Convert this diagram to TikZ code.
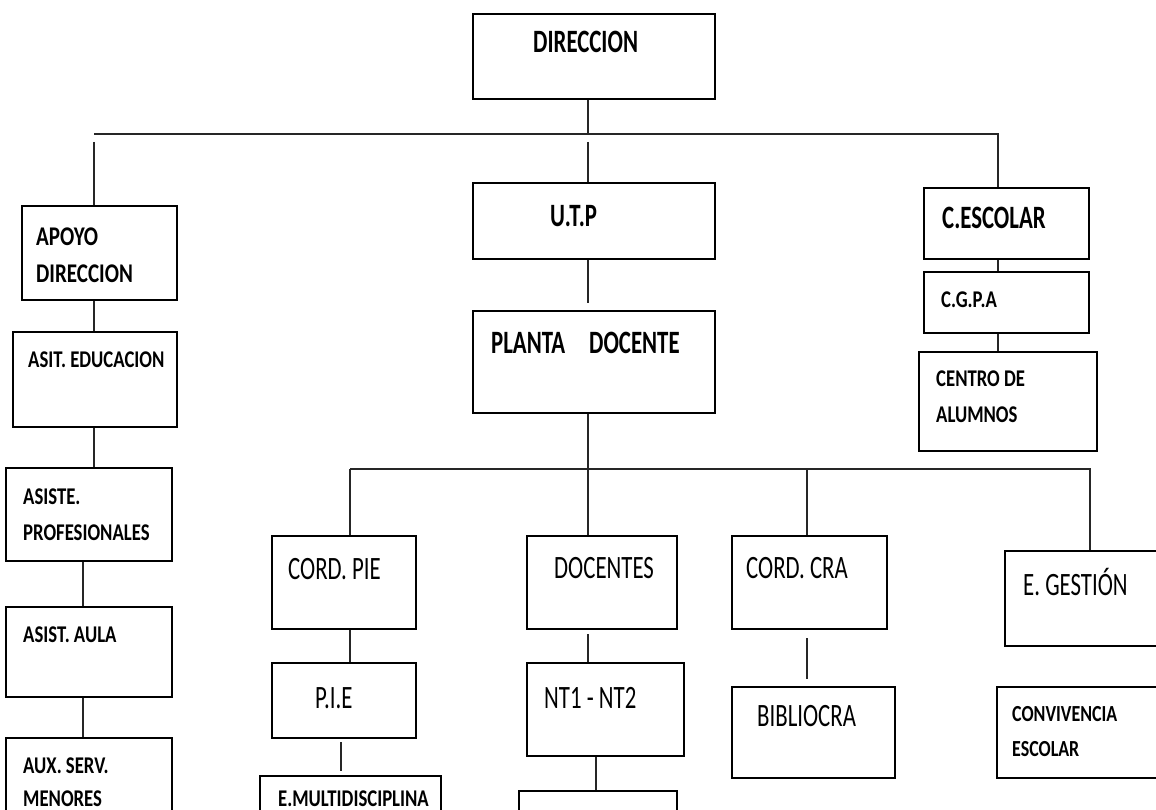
\documentclass[tikz,border=0pt]{standalone}
\usepackage{fontspec}
\setmainfont{Carlito}
\newfontfamily\bigfont[FakeStretch=0.7]{Carlito}
\newfontfamily\midfont[FakeStretch=0.78]{Carlito}
\usepackage{tikz}
\usetikzlibrary{positioning,calc}
\tikzset{
  unit/.style={draw, line width=2pt, inner sep=0pt, fill=white},
  link/.style={line width=1.3pt, black!85},
  bar/.style={line width=2.2pt, black!85},
  bigtxt/.style={font=\bigfont\fontsize{32.6}{36}\selectfont, inner sep=0pt, anchor=base west},
  midtxt/.style={font=\midfont\bfseries\fontsize{24}{36}\selectfont, inner sep=0pt, anchor=base west, align=left}
}
\begin{document}
\begin{tikzpicture}[x=1pt, y=-1pt]
  \clip (0,0) rectangle (1156,810);
  \fill[white] (0,0) rectangle (1156,810);

  % boxes
  \node[unit, minimum width=242pt, minimum height=85pt] (dir) at (594,56.5) {};
  \node[unit, minimum width=242pt, minimum height=76pt] (utp) at (594,221) {};
  \node[unit, minimum width=242pt, minimum height=102pt] (planta) at (594,362) {};
  \node[unit, minimum width=155pt, minimum height=94pt] (apoyo) at (99.5,253) {};
  \node[unit, minimum width=164pt, minimum height=95pt] (asited) at (95,379.5) {};
  \node[unit, minimum width=166pt, minimum height=93pt] (asiste) at (89,514.5) {};
  \node[unit, minimum width=166pt, minimum height=90pt] (aula) at (89,652) {};
  \node[unit, minimum width=166pt, minimum height=112pt] (aux) at (89,794) {};
  \node[unit, minimum width=144pt, minimum height=93pt] (cordpie) at (344,582.5) {};
  \node[unit, minimum width=144pt, minimum height=75pt] (pie) at (344,700.5) {};
  \node[unit, minimum width=181pt, minimum height=74pt] (emulti) at (350.5,813) {};
  \node[unit, minimum width=150pt, minimum height=93pt] (docentes) at (602,582.5) {};
  \node[unit, minimum width=157pt, minimum height=93pt] (nt) at (605.5,709.5) {};
  \node[unit, minimum width=158pt, minimum height=59pt] (ntsub) at (598,820.5) {};
  \node[unit, minimum width=155pt, minimum height=93pt] (cordcra) at (809.5,582.5) {};
  \node[unit, minimum width=163pt, minimum height=91pt] (biblio) at (813.5,732.5) {};
  \node[unit, minimum width=180pt, minimum height=95pt] (gestion) at (1095,598.5) {};
  \node[unit, minimum width=188pt, minimum height=91pt] (conviv) at (1091,732.5) {};
  \node[unit, minimum width=165pt, minimum height=71pt] (cesc) at (1006.5,223.5) {};
  \node[unit, minimum width=165pt, minimum height=61pt] (cgpa) at (1006.5,302.5) {};
  \node[unit, minimum width=178pt, minimum height=99pt] (centro) at (1008,401.5) {};

  % texts (multi-line ones sit on their last baseline)
  \node[bigtxt] (t-dir) at (533,53) {\bfseries DIRECCION};
  \node[bigtxt] (t-utp) at (550,227) {\bfseries U.T.P};
  \node[bigtxt] (t-planta) at (491,353) {\bfseries PLANTA\hspace{24pt}DOCENTE};
  \node[bigtxt] (t-cesc) at (942,229) {\bfseries C.ESCOLAR};
  \node[bigtxt] (t-cordpie) at (288,579) {CORD. PIE};
  \node[bigtxt] (t-pie) at (315,708) {P.I.E};
  \node[bigtxt] (t-docentes) at (554,578) {DOCENTES};
  \node[bigtxt] (t-nt) at (544,708) {NT1 - NT2};
  \node[bigtxt] (t-cordcra) at (746,578) {CORD. CRA};
  \node[bigtxt] (t-biblio) at (757,726) {BIBLIOCRA};
  \node[bigtxt] (t-gestion) at (1023,595) {E. GESTIÓN};
  \node[midtxt, font=\midfont\bfseries\fontsize{27}{37}\selectfont] (t-apoyo) at (36,283) {APOYO\\DIRECCION};
  \node[midtxt] (t-asited) at (28,367) {ASIT. EDUCACION};
  \node[midtxt] (t-asiste) at (23,540) {ASISTE.\\PROFESIONALES};
  \node[midtxt] (t-aula) at (23,642) {ASIST. AULA};
  \node[midtxt, font=\midfont\bfseries\fontsize{24}{33}\selectfont] (t-aux) at (23,806) {AUX. SERV.\\MENORES};
  \node[midtxt] (t-emulti) at (278,806) {E.MULTIDISCIPLINA};
  \node[midtxt, font=\midfont\bfseries\fontsize{23}{35}\selectfont] (t-conviv) at (1012,756) {CONVIVENCIA\\ESCOLAR};
  \node[midtxt] (t-cgpa) at (941,307) {C.G.P.A};
  \node[midtxt] (t-centro) at (936,422) {CENTRO DE\\ALUMNOS};

  % line positions
  \coordinate (xa) at (94,0);
  \coordinate (xb) at (83,0);
  \coordinate (xp) at (350,0);
  \coordinate (xq) at (341,0);
  \coordinate (xs) at (588,0);
  \coordinate (xn) at (596,0);
  \coordinate (xc) at (807,0);
  \coordinate (xe) at (998,0);
  \coordinate (xg) at (1090,0);
  \coordinate (barL) at (94,134);
  \coordinate (barR) at (998,134);
  \coordinate (bar2L) at (350,469);
  \coordinate (bar2R) at (1090,469);

  % top level
  \draw[bar] (barL) -- (barR) -- (cesc.north -| xe);
  \draw[link] (dir.south -| xs) -- (barL -| xs);
  \draw[link, shorten <=8pt] (barL) -- (apoyo.north -| xa);
  \draw[link, shorten <=8pt] (barL -| xs) -- (utp.north -| xs);
  \draw[link, shorten >=7pt] (utp.south -| xs) -- (planta.north -| xs);
  \draw[link] (planta.south -| xs) -- (bar2L -| xs);

  % left column
  \draw[link] (apoyo.south -| xa) -- (asited.north -| xa);
  \draw[link] (asited.south -| xa) -- (asiste.north -| xa);
  \draw[link] (asiste.south -| xb) -- (aula.north -| xb);
  \draw[link] (aula.south -| xb) -- (aux.north -| xb);

  % right column
  \draw[link, line width=2pt] (cesc.south -| xe) -- (cgpa.north -| xe);
  \draw[link, line width=2pt] (cgpa.south -| xe) -- (centro.north -| xe);

  % teaching staff
  \draw[bar] (bar2L) -- (bar2R) -- (gestion.north -| xg);
  \draw[link] (bar2L) -- (cordpie.north -| xp);
  \draw[link] (bar2L -| xs) -- (docentes.north -| xs);
  \draw[link] (bar2L -| xc) -- (cordcra.north -| xc);
  \draw[link, line width=2pt] (cordpie.south -| xp) -- (pie.north -| xp);
  \draw[link, line width=2pt, shorten <=3pt, shorten >=4pt] (pie.south -| xq) -- (emulti.north -| xq);
  \draw[link, shorten <=4pt] (docentes.south -| xs) -- (nt.north -| xs);
  \draw[link] (nt.south -| xn) -- (ntsub.north -| xn);
  \draw[link, shorten <=8pt, shorten >=7pt] (cordcra.south -| xc) -- (biblio.north -| xc);
\end{tikzpicture}
\end{document}
